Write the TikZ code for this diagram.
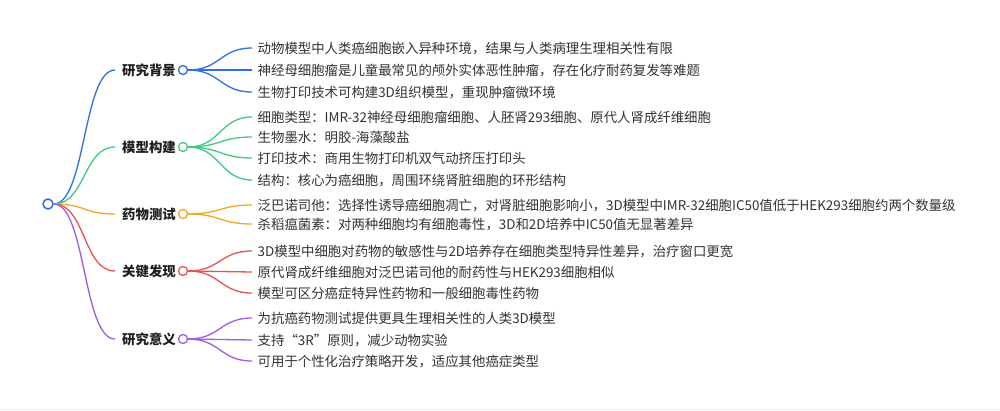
\documentclass[tikz,border=0pt]{standalone}
\usepackage{fontspec}
\setmainfont{Noto Sans CJK SC}
\definecolor{cblue}{HTML}{2F6FE4}
\definecolor{cgreen}{HTML}{3FCB80}
\definecolor{corange}{HTML}{F5A623}
\definecolor{cred}{HTML}{E55550}
\definecolor{cpurple}{HTML}{9D5CE5}
\definecolor{ctext}{HTML}{333333}
\definecolor{cline}{HTML}{EEEDF5}
\tikzset{
	link/.style={line width=1.3pt, to path={.. controls +(32,0) and +(-32,0) .. (\tikztotarget)}},
	dot/.style={circle, draw, fill=white, line width=1.3pt, minimum size=9pt, inner sep=0pt},
	topic/.style={anchor=west, inner xsep=7pt, inner ysep=0pt, font=\bfseries, text=black!88, text height=0.88em, text depth=0.12em},
	leaf/.style={anchor=west, inner xsep=5.5pt, inner ysep=0pt, text=ctext, text height=0.88em, text depth=0.12em}
}
\begin{document}
\fontsize{13.4}{16}\selectfont
\begin{tikzpicture}[x=1pt, y=-1pt]
		\fill[white] (0,0) rectangle (1000,410);
		\useasboundingbox (0,0) rectangle (1000,410);
		\draw[cline, line width=1pt] (0,409.5) -- (1000,409.5);

		\node[dot, draw=cblue, minimum size=10pt, line width=1.5pt] (root) at (48,204) {};

		\node[topic] (bg) at (115,70) {研究背景};
		\node[topic] (mx) at (115,147) {模型构建};
		\node[topic] (yw) at (115,214) {药物测试};
		\node[topic] (fx) at (115,271) {关键发现};
		\node[topic] (yy) at (115,339) {研究意义};

		\node[dot, draw=cblue] (bgc) at (183,70) {};
		\node[dot, draw=cgreen] (mxc) at (183,147) {};
		\node[dot, draw=corange] (ywc) at (183,214) {};
		\node[dot, draw=cred] (fxc) at (183,271) {};
		\node[dot, draw=cpurple] (yyc) at (183,339) {};

		\draw[cblue, link] (root.east) to (bg.west);
		\draw[cgreen, link] (root.east) to (mx.west);
		\draw[corange, link] (root.east) to (yw.west);
		\draw[cred, link] (root.east) to (fx.west);
		\draw[cpurple, link] (root.east) to (yy.west);

		\node[leaf] (bg1) at (252,48) {动物模型中人类癌细胞嵌入异种环境，结果与人类病理生理相关性有限};
		\node[leaf] (bg2) at (252,70) {神经母细胞瘤是儿童最常见的颅外实体恶性肿瘤，存在化疗耐药复发等难题};
		\node[leaf] (bg3) at (252,92) {生物打印技术可构建3D组织模型，重现肿瘤微环境};
		\draw[cblue, link] (bgc.east) to (bg1.west);
		\draw[cblue, link] (bgc.east) to (bg2.west);
		\draw[cblue, link] (bgc.east) to (bg3.west);

		\node[leaf] (mx1) at (252,117) {细胞类型：IMR-32神经母细胞瘤细胞、人胚肾293细胞、原代人肾成纤维细胞};
		\node[leaf] (mx2) at (252,137) {生物墨水：明胶-海藻酸盐};
		\node[leaf] (mx3) at (252,158) {打印技术：商用生物打印机双气动挤压打印头};
		\node[leaf] (mx4) at (252,180) {结构：核心为癌细胞，周围环绕肾脏细胞的环形结构};
		\draw[cgreen, link] (mxc.east) to (mx1.west);
		\draw[cgreen, link] (mxc.east) to (mx2.west);
		\draw[cgreen, link] (mxc.east) to (mx3.west);
		\draw[cgreen, link] (mxc.east) to (mx4.west);

		\node[leaf] (yw1) at (252,205) {泛巴诺司他：选择性诱导癌细胞凋亡，对肾脏细胞影响小，3D模型中IMR-32细胞IC50值低于HEK293细胞约两个数量级};
		\node[leaf] (yw2) at (252,224) {杀稻瘟菌素：对两种细胞均有细胞毒性，3D和2D培养中IC50值无显著差异};
		\draw[corange, link] (ywc.east) to (yw1.west);
		\draw[corange, link] (ywc.east) to (yw2.west);

		\node[leaf] (fx1) at (252,251) {3D模型中细胞对药物的敏感性与2D培养存在细胞类型特异性差异，治疗窗口更宽};
		\node[leaf] (fx2) at (252,272) {原代肾成纤维细胞对泛巴诺司他的耐药性与HEK293细胞相似};
		\node[leaf] (fx3) at (252,293) {模型可区分癌症特异性药物和一般细胞毒性药物};
		\draw[cred, link] (fxc.east) to (fx1.west);
		\draw[cred, link] (fxc.east) to (fx2.west);
		\draw[cred, link] (fxc.east) to (fx3.west);

		\node[leaf] (yy1) at (252,318) {为抗癌药物测试提供更具生理相关性的人类3D模型};
		\node[leaf] (yy2) at (252,340) {支持“3R”原则，减少动物实验};
		\node[leaf] (yy3) at (252,361) {可用于个性化治疗策略开发，适应其他癌症类型};
		\draw[cpurple, link] (yyc.east) to (yy1.west);
		\draw[cpurple, link] (yyc.east) to (yy2.west);
		\draw[cpurple, link] (yyc.east) to (yy3.west);
	\end{tikzpicture}
\end{document}
